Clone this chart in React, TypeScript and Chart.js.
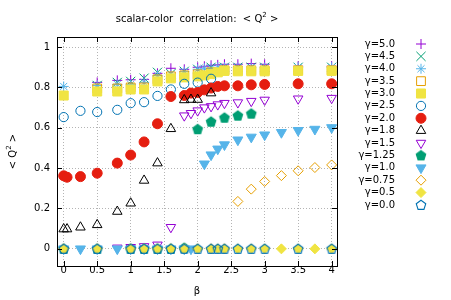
import React, { useEffect, useRef } from 'react';
import { Chart, registerables } from 'chart.js';
import { drawPoint } from 'chart.js/helpers';

Chart.register(...registerables);

// ---------- data ----------
const xTicks = [0, 0.5, 1, 1.5, 2, 2.5, 3, 3.5, 4];
const yTicks = [0, 0.2, 0.4, 0.6, 0.8, 1];

const gammaLabels = ['γ=5.0', 'γ=4.5', 'γ=4.0', 'γ=3.5', 'γ=3.0', 'γ=2.5', 'γ=2.0', 'γ=1.8', 'γ=1.5', 'γ=1.25', 'γ=1.0', 'γ=0.75', 'γ=0.5', 'γ=0.0'];

const beta50 = [0.5, 0.8, 1.0, 1.2, 1.4, 1.6, 1.8, 2.0, 2.1, 2.2, 2.3, 2.4, 2.6, 2.8, 3.0, 3.5, 4.0];
const q50 = [0.825, 0.835, 0.838, 0.84, 0.87, 0.895, 0.89, 0.9, 0.905, 0.91, 0.912, 0.915, 0.915, 0.918, 0.915, 0.905, 0.905];

const beta45 = [0.5, 0.8, 1.0, 1.2, 1.4, 1.6, 1.8, 2.0, 2.2, 2.4, 2.6, 2.8, 3.0, 3.5, 4.0];
const q45 = [0.81, 0.825, 0.83, 0.846, 0.875, 0.868, 0.88, 0.89, 0.9, 0.9, 0.9, 0.9, 0.9, 0.9, 0.9];

const beta40 = [0, 0.5, 0.8, 1.0, 1.2, 1.4, 1.6, 1.8, 2.0, 2.1, 2.2, 2.3, 2.4, 2.6, 2.8, 3.0, 3.5, 4.0];
const q40 = [0.805, 0.81, 0.815, 0.815, 0.825, 0.86, 0.865, 0.878, 0.89, 0.895, 0.895, 0.9, 0.9, 0.898, 0.898, 0.898, 0.9, 0.9];

const beta35 = [0.5, 0.8, 1.0, 1.2, 1.4, 1.6, 1.8, 2.0, 2.2, 2.4, 2.6, 2.8, 3.0, 3.5, 4.0];
const q35 = [0.795, 0.795, 0.8, 0.8, 0.84, 0.855, 0.86, 0.865, 0.875, 0.885, 0.885, 0.885, 0.885, 0.885, 0.885];

const beta30 = [0, 0.5, 0.8, 1.0, 1.2, 1.4, 1.6, 1.8, 2.0, 2.1, 2.2, 2.3, 2.4, 2.6, 2.8, 3.0, 3.5, 4.0];
const q30 = [0.76, 0.78, 0.78, 0.79, 0.79, 0.83, 0.845, 0.85, 0.855, 0.86, 0.866, 0.875, 0.882, 0.88, 0.88, 0.88, 0.882, 0.882];

const beta25 = [0, 0.25, 0.5, 0.8, 1.0, 1.2, 1.4, 1.6, 1.8, 2.0, 2.2];
const q25 = [0.653, 0.684, 0.678, 0.689, 0.722, 0.727, 0.758, 0.79, 0.818, 0.824, 0.843];

const beta20 = [0, 0.05, 0.25, 0.5, 0.8, 1.0, 1.2, 1.4, 1.6, 1.8, 1.9, 2.0, 2.1, 2.2, 2.3, 2.4, 2.6, 2.8, 3.0, 3.5, 4.0];
const q20 = [0.362, 0.355, 0.358, 0.375, 0.425, 0.465, 0.53, 0.62, 0.755, 0.76, 0.772, 0.775, 0.788, 0.797, 0.805, 0.808, 0.808, 0.813, 0.815, 0.818, 0.818];

const beta18 = [0, 0.05, 0.25, 0.5, 0.8, 1.0, 1.2, 1.4, 1.6, 1.8, 1.9, 2.0, 2.2];
const q18 = [0.098, 0.098, 0.107, 0.119, 0.185, 0.226, 0.339, 0.425, 0.595, 0.738, 0.74, 0.74, 0.772];

const beta15 = [0.8, 1.0, 1.2, 1.4, 1.6, 1.8, 1.9, 2.0, 2.1, 2.2, 2.3, 2.4, 2.6, 2.8, 3.0, 3.5, 4.0];
const q15 = [0.005, 0.008, 0.012, 0.02, 0.107, 0.66, 0.672, 0.685, 0.7, 0.706, 0.715, 0.722, 0.725, 0.732, 0.738, 0.744, 0.747];

const beta125 = [0, 0.5, 1.0, 1.2, 1.4, 1.6, 1.8, 2.0, 2.2, 2.4, 2.6, 2.8];
const q125 = [0, 0, 0, 0, 0, 0, 0.005, 0.593, 0.63, 0.65, 0.66, 0.67];

const beta10 = [0, 0.25, 0.5, 0.8, 1.0, 1.2, 1.4, 1.6, 1.8, 1.9, 2.1, 2.2, 2.3, 2.4, 2.6, 2.8, 3.0, 3.25, 3.5, 3.75, 4.0];
const q10 = [0, 0, 0, 0, 0, 0, 0, 0, 0, 0, 0.421, 0.466, 0.495, 0.516, 0.54, 0.554, 0.565, 0.577, 0.587, 0.593, 0.601];

const beta075 = [0, 0.5, 1.0, 1.2, 1.4, 1.6, 1.8, 2.0, 2.2, 2.4, 2.6, 2.8, 3.0, 3.25, 3.5, 3.75, 4.0];
const q075 = [0, 0, 0, 0, 0, 0, 0, 0, 0, 0, 0.235, 0.296, 0.334, 0.363, 0.387, 0.403, 0.416];

const beta05 = [0, 0.5, 1.0, 1.2, 1.4, 1.6, 1.8, 2.0, 2.2, 2.3, 2.4, 2.6, 2.8, 3.0, 3.25, 3.5, 3.75, 4.0];
const q05 = [0, 0, 0, 0, 0, 0, 0, 0, 0, 0, 0, 0, 0, 0, 0, 0, 0, 0];

const beta00 = [0, 0.5, 1.0, 1.2, 1.4, 1.6, 1.8, 2.0, 2.2, 2.3, 2.4, 2.6, 2.8, 3.0, 3.5, 4.0];
const q00 = [0, 0, 0, 0, 0, 0, 0, 0, 0, 0, 0, 0, 0, 0, 0, 0];

const seriesBeta = [beta50, beta45, beta40, beta35, beta30, beta25, beta20, beta18, beta15, beta125, beta10, beta075, beta05, beta00];
const seriesQ = [q50, q45, q40, q35, q30, q25, q20, q18, q15, q125, q10, q075, q05, q00];

// ---------- styles ----------
const FONT = 'DejaVu Sans';
const PURPLE = '#9400d3';
const GREEN = '#009e73';
const SKY = '#56b4e9';
const ORANGE = '#e69f00';
const YELLOW = '#f0e442';
const BLUE = '#0072b2';
const RED = '#e51e10';
const BLACK = '#000000';

function pentagon(color: string, filled: boolean, r: number) {
  const size = Math.ceil(2 * r + 4);
  const c = document.createElement('canvas');
  c.width = size;
  c.height = size;
  const ctx = c.getContext('2d')!;
  ctx.beginPath();
  for (let i = 0; i < 5; i++) {
    const a = -Math.PI / 2 + (i * 2 * Math.PI) / 5;
    const px = size / 2 + r * Math.cos(a);
    const py = size / 2 + r * Math.sin(a) + 0.3;
    if (i === 0) ctx.moveTo(px, py);
    else ctx.lineTo(px, py);
  }
  ctx.closePath();
  if (filled) {
    ctx.fillStyle = color;
    ctx.fill();
  }
  ctx.strokeStyle = color;
  ctx.lineWidth = 1.1;
  ctx.stroke();
  return c;
}

type Sty = { color: string; style: any; radius: number; fill: boolean; rotation?: number };

function makeStyles(): Sty[] {
  return [
    { color: PURPLE, style: 'cross', radius: 5, fill: false },
    { color: GREEN, style: 'crossRot', radius: 6.5, fill: false },
    { color: SKY, style: 'star', radius: 5, fill: false },
    { color: ORANGE, style: 'rect', radius: 6.2, fill: false },
    { color: YELLOW, style: 'rect', radius: 6.4, fill: true },
    { color: BLUE, style: 'circle', radius: 4.6, fill: false },
    { color: RED, style: 'circle', radius: 5, fill: true },
    { color: BLACK, style: 'triangle', radius: 5.5, fill: false },
    { color: PURPLE, style: 'triangle', radius: 5.5, fill: false, rotation: 180 },
    { color: GREEN, style: pentagon(GREEN, true, 5), radius: 5, fill: true },
    { color: SKY, style: 'triangle', radius: 5.8, fill: true, rotation: 180 },
    { color: ORANGE, style: 'rectRot', radius: 5, fill: false },
    { color: YELLOW, style: 'rectRot', radius: 5, fill: true },
    { color: BLUE, style: pentagon(BLUE, false, 5), radius: 5, fill: false },
  ];
}

function drawSupText(ctx: CanvasRenderingContext2D, parts: [string, boolean][], cx: number, cy: number) {
  const big = `10px "${FONT}"`;
  const small = `7px "${FONT}"`;
  let total = 0;
  const widths = parts.map(([t, sup]) => {
    ctx.font = sup ? small : big;
    const w = ctx.measureText(t).width;
    total += w;
    return w;
  });
  let x = cx - total / 2;
  ctx.textBaseline = 'middle';
  ctx.textAlign = 'left';
  parts.forEach(([t, sup], i) => {
    ctx.font = sup ? small : big;
    ctx.fillText(t, x, sup ? cy - 4 : cy);
    x += widths[i];
  });
}

export default function App() {
  const ref = useRef<HTMLCanvasElement | null>(null);

  useEffect(() => {
    document.body.style.margin = '0';
    const canvas = ref.current;
    if (!canvas) return;
    const styles = makeStyles();
    const n = seriesBeta.length;

    const datasets = seriesBeta.map((b, i) => {
      const s = styles[i];
      return {
        label: gammaLabels[i],
        data: b.map((x, j) => ({ x, y: seriesQ[i][j] })),
        showLine: false,
        order: n - i,
        pointStyle: s.style,
        pointRadius: s.radius,
        pointHoverRadius: s.radius,
        pointRotation: s.rotation || 0,
        pointBorderWidth: 1,
        pointBorderColor: s.color,
        pointBackgroundColor: s.fill ? s.color : 'rgba(0,0,0,0)',
        borderColor: s.color,
        backgroundColor: s.fill ? s.color : 'rgba(0,0,0,0)',
      };
    });

    const decor = {
      id: 'decor',
      afterDraw(chart: any) {
        const { ctx, chartArea: a, scales } = chart;
        const xs = scales.x;
        const ys = scales.y;
        ctx.save();
        ctx.strokeStyle = '#000';
        ctx.lineWidth = 1;
        ctx.beginPath();
        for (const v of xTicks) {
          const p = Math.round(xs.getPixelForValue(v)) + 0.5;
          ctx.moveTo(p, a.bottom);
          ctx.lineTo(p, a.bottom - 5);
          ctx.moveTo(p, a.top);
          ctx.lineTo(p, a.top + 5);
        }
        for (const v of yTicks) {
          const p = Math.round(ys.getPixelForValue(v)) + 0.5;
          ctx.moveTo(a.left, p);
          ctx.lineTo(a.left + 5, p);
          ctx.moveTo(a.right, p);
          ctx.lineTo(a.right - 5, p);
        }
        ctx.stroke();
        ctx.strokeRect(a.left + 0.5, a.top + 0.5, a.right - a.left, a.bottom - a.top);

        ctx.fillStyle = '#000';
        const cx = (a.left + a.right) / 2;
        // title
        drawSupText(ctx, [['scalar-color  correlation:  < Q', false], ['2', true], [' >', false]], cx, 19);
        // x label
        ctx.font = `10px "${FONT}"`;
        ctx.textAlign = 'center';
        ctx.textBaseline = 'middle';
        ctx.fillText('β', cx, 291);
        // y label
        ctx.save();
        ctx.translate(13, (a.top + a.bottom) / 2);
        ctx.rotate(-Math.PI / 2);
        drawSupText(ctx, [['< Q', false], ['2', true], [' >', false]], 0, 0);
        ctx.restore();

        // legend
        for (let i = 0; i < n; i++) {
          const y = 44 + i * 12.38;
          ctx.font = `10px "${FONT}"`;
          ctx.textAlign = 'right';
          ctx.textBaseline = 'middle';
          ctx.fillStyle = '#000';
          ctx.fillText(gammaLabels[i], 395, y);
          const s = styles[i];
          ctx.fillStyle = s.fill ? s.color : 'rgba(0,0,0,0)';
          ctx.strokeStyle = s.color;
          ctx.lineWidth = 1;
          drawPoint(ctx, { pointStyle: s.style, rotation: s.rotation || 0, radius: s.radius, borderWidth: 1 } as any, 421, y);
        }
        ctx.restore();
      },
    };

    const tickFont = { family: FONT, size: 10 };

    const chart = new Chart(canvas, {
      type: 'scatter',
      data: { datasets: datasets as any },
      options: {
        animation: false,
        responsive: false,
        maintainAspectRatio: false,
        layout: { padding: { left: 0, right: 114, top: 37, bottom: 0 } },
        plugins: {
          legend: { display: false },
          title: { display: false },
          tooltip: { enabled: false },
        },
        scales: {
          x: {
            type: 'linear',
            min: -0.1,
            max: 4.08,
            afterBuildTicks: (s: any) => {
              s.ticks = xTicks.map((v) => ({ value: v }));
            },
            afterFit: (s: any) => {
              s.height = 34;
            },
            ticks: {
              font: tickFont,
              color: '#000',
              padding: -2,
              maxRotation: 0,
              autoSkip: false,
              callback: (v: any) => String(v),
            },
            grid: { color: '#b4b4b4', lineWidth: 1, drawTicks: false },
            border: { display: false, dash: [1, 2] },
          },
          y: {
            type: 'linear',
            min: -0.085,
            max: 1.05,
            afterBuildTicks: (s: any) => {
              s.ticks = yTicks.map((v) => ({ value: v }));
            },
            afterFit: (s: any) => {
              s.width = 57;
            },
            ticks: {
              font: tickFont,
              color: '#000',
              padding: 7,
              autoSkip: false,
              callback: (v: any) => String(v),
            },
            grid: { color: '#b4b4b4', lineWidth: 1, drawTicks: false },
            border: { display: false, dash: [1, 2] },
          },
        },
      },
      plugins: [decor],
    });

    return () => chart.destroy();
  }, []);

  return <canvas ref={ref} width={451} height={300} style={{ display: 'block', width: 451, height: 300 }} />;
}
